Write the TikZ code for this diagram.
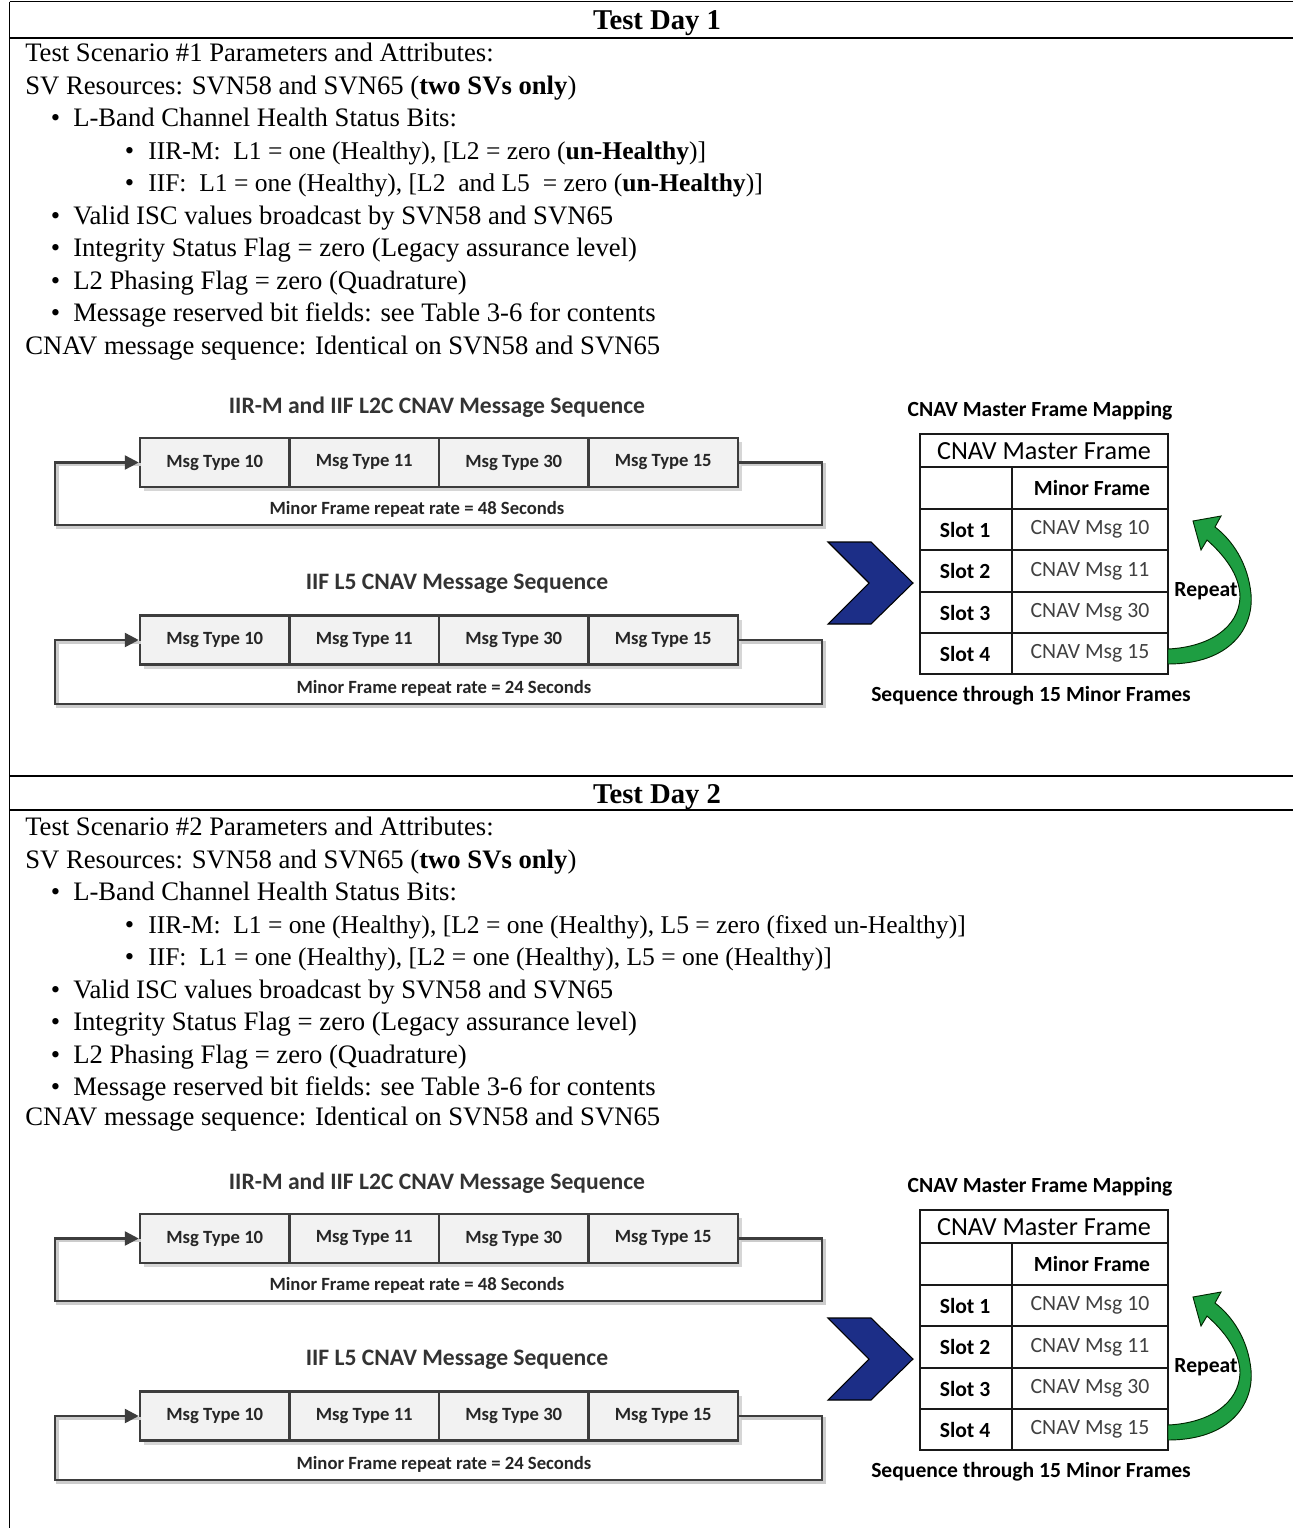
\documentclass[tikz,border=0pt]{standalone}
\usepackage{fontspec}
\setmainfont{Liberation Serif}
\newfontfamily\calfont{Carlito}
\usetikzlibrary{arrows.meta}
\definecolor{chevnavy}{RGB}{28,46,135}
\definecolor{arrgreen}{RGB}{30,158,66}

\newcommand\cnavdiagram[2]{%
\begin{scope}[shift={(0,#2)}]
 \node[dtitle] (ta#1) at (437,407) {IIR-M and IIF L2C CNAV Message Sequence};
 \node[dtitle] (tb#1) at (457,584) {IIF L5 CNAV Message Sequence};
 \fill[black!16] (143.5,441.5) rectangle (742,491);
 \fill[black!16] (143.5,619.5) rectangle (742,668.5);
 \foreach \i/\x/\m in {1/214.75/10,2/364.25/11,3/513.75/30,4/663.25/15}{
   \node[cell] (a#1-\i) at (\x,462.5) {Msg Type \m};
   \node[cell] (b#1-\i) at (\x,640) {Msg Type \m};
 }
 \coordinate (ar#1) at (822,525); \coordinate (al#1) at (55,525);
 \coordinate (br#1) at (822,704); \coordinate (bl#1) at (55,704);
 \draw[seqshadow,transform canvas={xshift=1.6pt,yshift=-1.6pt}] (a#1-4.east) -| (ar#1) -- (al#1) |- (a#1-1.west);
 \draw[seqshadow,transform canvas={xshift=1.6pt,yshift=-1.6pt}] (b#1-4.east) -| (br#1) -- (bl#1) |- (b#1-1.west);
 \draw[seqline,-{Triangle[length=10.5pt,width=10.5pt]}] (a#1-4.east) -| (ar#1) -- (al#1) |- (a#1-1.west);
 \draw[seqline,-{Triangle[length=10.5pt,width=10.5pt]}] (b#1-4.east) -| (br#1) -- (bl#1) |- (b#1-1.west);
 \node[small] (la#1) at (417,509) {Minor Frame repeat rate = 48 Seconds};
 \node[small] (lb#1) at (444,688) {Minor Frame repeat rate = 24 Seconds};
 % chevron
 \filldraw[fill=chevnavy,draw=black,line width=0.8pt] (828,542) -- (871,542) -- (913,583) -- (871,624) -- (828,624) -- (869,583) -- cycle;
 % master frame table
 \node[tbold] (mt#1) at (1040,411) {CNAV Master Frame Mapping};
 \draw[tb] (920,434) rectangle (1168,674);
 \foreach \yy in {467,509,550,592,633} \draw[tb] (920,\yy) -- (1168,\yy);
 \draw[tb] (1012,467) -- (1012,674);
 \node[thead] (mh#1) at (1044,451) {CNAV Master Frame};
 \node[tbold] (mf#1) at (1092,488) {Minor Frame};
 \foreach \i/\yy/\m in {1/529.5/10,2/571/11,3/612.5/30,4/653.5/15}{
   \node[tbold] (s#1-\i) at (965,\yy) {Slot \i};
   \node[treg] (c#1-\i) at (1090,\yy) {CNAV Msg \m};
 }
 % repeat arrow
 \filldraw[fill=arrgreen,draw=black!85!green,line width=0.7pt]
   (1168,664) .. controls (1230,664) and (1254,628) .. (1251,594)
   .. controls (1248,563) and (1232,540) .. (1215,527)
   -- (1221,516) -- (1193,521) -- (1201,550) -- (1207,540)
   .. controls (1224,555) and (1240,575) .. (1240,597)
   .. controls (1239,627) and (1210,647) .. (1168,649) -- cycle;
 \node[tbold] (rp#1) at (1206,591) {Repeat};
 \node[tbold] (sq#1) at (1031,696) {Sequence through 15 Minor Frames};
\end{scope}}

\begin{document}
\begin{tikzpicture}[x=0.75pt,y=-0.75pt,
 body/.style={anchor=base west,inner sep=0pt,font=\fontsize{20}{24}\selectfont},
 bodyb/.style={anchor=base west,inner sep=0pt,font=\fontsize{19.15}{23}\selectfont},
 hdr/.style={anchor=base,inner sep=0pt,font=\fontsize{21.5}{24}\selectfont\bfseries},
 rule/.style={line width=1.1pt},
 dtitle/.style={inner sep=0pt,text=black!80,font=\calfont\bfseries\fontsize{17.7}{20}\selectfont},
 cell/.style={draw=black!76,line width=1.9pt,fill=black!5,minimum width=112.1pt,minimum height=36.8pt,inner sep=0pt,text=black!85,font=\calfont\bfseries\fontsize{14}{16}\selectfont},
 seqline/.style={draw=black!76,line width=1.9pt},
 seqshadow/.style={draw=black!20,line width=2.2pt},
 small/.style={inner sep=0pt,font=\calfont\bfseries\fontsize{14}{16}\selectfont,text=black!85},
 tb/.style={line width=1.9pt,draw=black!90},
 tbold/.style={inner sep=0pt,font=\calfont\bfseries\fontsize{16.2}{18}\selectfont},
 treg/.style={inner sep=0pt,font=\calfont\fontsize{16.3}{18}\selectfont,text=black!75},
 thead/.style={inner sep=0pt,font=\calfont\fontsize{19.6}{22}\selectfont},
]
\useasboundingbox (0,0) rectangle (1293,1528);
\fill[white] (0,0) rectangle (1293,1528);
% frame lines
\draw[rule] (9.5,1.5) -- (1293,1.5);
\draw[rule] (9.5,38) -- (1293,38);
\draw[rule] (9.5,776) -- (1293,776);
\draw[rule] (9.5,810) -- (1293,810);
\draw[rule] (9.5,1.5) -- (9.5,1528);

% ---- Day 1 ----
\node[hdr] (h1) at (657,29.5) {Test Day 1};
\node[body] (d1a) at (25,61.5) {Test Scenario \#1 Parameters and Attributes:};
\node[body] (d1b) at (25,94) {SV Resources: SVN58 and SVN65 (\textbf{two SVs only})};
\node[body] (d1cb) at (50.5,126.5) {\textbullet};
\node[body] (d1c) at (73,126.5) {L-Band Channel Health Status Bits:};
\node[body] (d1db) at (124.5,159) {\textbullet};
\node[bodyb] (d1d) at (148,159) {IIR-M:\ \ L1 = one (Healthy), [L2 = zero (\textbf{un-Healthy})]};
\node[body] (d1eb) at (124.5,191.5) {\textbullet};
\node[bodyb] (d1e) at (148,191.5) {IIF:\ \ L1 = one (Healthy), [L2\ \ and L5\ \ = zero (\textbf{un-Healthy})]};
\node[body] (d1fb) at (50.5,224) {\textbullet};
\node[body] (d1f) at (73,224) {Valid ISC values broadcast by SVN58 and SVN65};
\node[body] (d1gb) at (50.5,256.5) {\textbullet};
\node[body] (d1g) at (73,256.5) {Integrity Status Flag = zero (Legacy assurance level)};
\node[body] (d1hb) at (50.5,289) {\textbullet};
\node[body] (d1h) at (73,289) {L2 Phasing Flag = zero (Quadrature)};
\node[body] (d1ib) at (50.5,321.5) {\textbullet};
\node[body] (d1i) at (73,321.5) {Message reserved bit fields: see Table 3-6 for contents};
\node[body] (d1j) at (25,354) {CNAV message sequence: Identical on SVN58 and SVN65};
\cnavdiagram{1}{0}

% ---- Day 2 ----
\node[hdr] (h2) at (657,803.5) {Test Day 2};
\node[body] (d2a) at (25,835.5) {Test Scenario \#2 Parameters and Attributes:};
\node[body] (d2b) at (25,868) {SV Resources: SVN58 and SVN65 (\textbf{two SVs only})};
\node[body] (d2cb) at (50.5,900.5) {\textbullet};
\node[body] (d2c) at (73,900.5) {L-Band Channel Health Status Bits:};
\node[body] (d2db) at (124.5,933) {\textbullet};
\node[bodyb] (d2d) at (148,933) {IIR-M:\ \ L1 = one (Healthy), [L2 = one (Healthy), L5 = zero (fixed un-Healthy)]};
\node[body] (d2eb) at (124.5,965.5) {\textbullet};
\node[bodyb] (d2e) at (148,965.5) {IIF:\ \ L1 = one (Healthy), [L2 = one (Healthy), L5 = one (Healthy)]};
\node[body] (d2fb) at (50.5,998) {\textbullet};
\node[body] (d2f) at (73,998) {Valid ISC values broadcast by SVN58 and SVN65};
\node[body] (d2gb) at (50.5,1030.5) {\textbullet};
\node[body] (d2g) at (73,1030.5) {Integrity Status Flag = zero (Legacy assurance level)};
\node[body] (d2hb) at (50.5,1063) {\textbullet};
\node[body] (d2h) at (73,1063) {L2 Phasing Flag = zero (Quadrature)};
\node[body] (d2ib) at (50.5,1095.5) {\textbullet};
\node[body] (d2i) at (73,1095.5) {Message reserved bit fields: see Table 3-6 for contents};
\node[body] (d2j) at (25,1125) {CNAV message sequence: Identical on SVN58 and SVN65};
\cnavdiagram{2}{776}
\end{tikzpicture}
\end{document}
